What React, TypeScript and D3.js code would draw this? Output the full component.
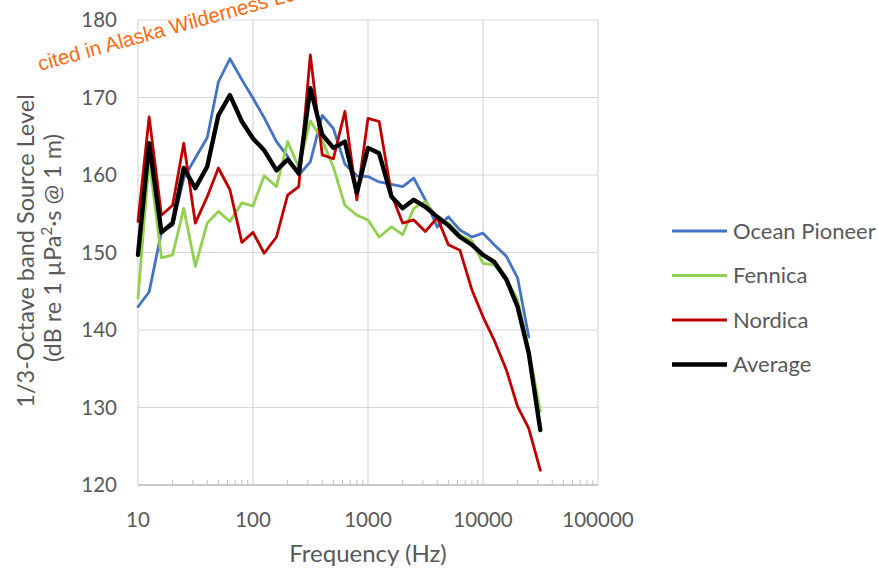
import React from "react";
import * as d3 from "d3";

const freqs = [10, 12.5, 16, 20, 25, 31.5, 40, 50, 63, 80, 100, 125, 160, 200, 250, 315, 400, 500, 630, 800,
  1000, 1250, 1600, 2000, 2500, 3150, 4000, 5000, 6300, 8000, 10000, 12500, 16000, 20000, 25000, 31500];

const oceanPioneer = [143.0, 144.9, 152.7, 153.5, 159.6, 162.2, 164.8, 172.0, 175.0, 172.3, 169.9, 167.4, 164.3,
  162.4, 160.0, 161.7, 167.7, 166.0, 161.4, 159.9, 159.8, 159.1, 158.8, 158.5, 159.6, 156.8, 153.3, 154.6,
  152.9, 152.0, 152.5, 151.0, 149.5, 146.7, 139.1];
const fennica = [144.1, 162.0, 149.3, 149.7, 155.7, 148.2, 153.8, 155.3, 154.0, 156.4, 156.0, 159.9, 158.5,
  164.3, 161.0, 167.0, 164.5, 161.0, 156.1, 154.8, 154.2, 152.0, 153.3, 152.3, 155.7, 156.6, 154.5, 153.8,
  152.3, 151.5, 148.6, 148.4, 146.5, 143.9, 137.5, 129.5];
const nordica = [154.0, 167.5, 154.8, 156.1, 164.1, 153.8, 157.2, 160.9, 158.1, 151.3, 152.6, 149.9, 152.0,
  157.4, 158.5, 175.5, 162.6, 162.1, 168.2, 156.8, 167.3, 166.9, 157.5, 153.8, 154.2, 152.7, 154.5, 151.0,
  150.3, 145.2, 141.7, 138.7, 134.8, 130.1, 127.3, 121.9];
const average = [149.7, 164.1, 152.6, 153.8, 160.9, 158.3, 161.1, 167.7, 170.3, 166.9, 164.7, 163.2, 160.6,
  162.0, 160.2, 171.2, 165.2, 163.5, 164.3, 157.7, 163.5, 162.8, 157.2, 155.7, 156.8, 155.9, 154.6, 153.5,
  152.0, 151.0, 149.7, 148.8, 146.5, 143.0, 137.0, 127.1];

const seriesNames = ["Ocean Pioneer", "Fennica", "Nordica", "Average"];
const xTicks = [10, 100, 1000, 10000, 100000];
const yTicks = [120, 130, 140, 150, 160, 170, 180];

const series = [
  { name: seriesNames[0], values: oceanPioneer, color: "#4472C4", width: 2.8 },
  { name: seriesNames[1], values: fennica, color: "#92D050", width: 2.8 },
  { name: seriesNames[2], values: nordica, color: "#C00000", width: 2.8 },
  { name: seriesNames[3], values: average, color: "#000000", width: 4.4 },
];

const font = "Lato, 'Open Sans', sans-serif";
const textColor = "#595959";

const App = () => {
  const x = d3.scaleLog().domain([10, 100000]).range([138, 598]);
  const y = d3.scaleLinear().domain([120, 180]).range([485, 20]);

  const line = d3
    .line<number>()
    .x((d, i) => x(freqs[i]))
    .y((d) => y(d));

  // minor ticks 2..9 inside each decade
  const minor: number[] = [];
  for (let dec = 10; dec < 100000; dec *= 10) {
    for (let k = 2; k <= 9; k++) minor.push(dec * k);
  }

  return (
    <svg width={878} height={569} style={{ position: "absolute", left: 0, top: 0, background: "#fff" }}>
      {/* gridlines */}
      {yTicks.map((t) => (
        <line key={"gy" + t} x1={138} x2={598} y1={y(t)} y2={y(t)} stroke="#d9d9d9" strokeWidth={1.2} />
      ))}
      {xTicks.map((t) => (
        <line key={"gx" + t} x1={x(t)} x2={x(t)} y1={20} y2={485} stroke="#d9d9d9" strokeWidth={1.2} />
      ))}
      <line x1={138} x2={598} y1={485} y2={485} stroke="#bfbfbf" strokeWidth={1.3} />
      {minor.map((m) => (
        <line key={"m" + m} x1={x(m)} x2={x(m)} y1={485} y2={480} stroke="#bfbfbf" strokeWidth={1} />
      ))}

      {/* tick labels */}
      {yTicks.map((t) => (
        <text key={"ly" + t} x={117} y={y(t)} dy="0.35em" textAnchor="end" fontFamily={font} fontSize={20.5} fill={textColor}>
          {t}
        </text>
      ))}
      {xTicks.map((t) => (
        <text key={"lx" + t} x={x(t)} y={520} dy="0.35em" textAnchor="middle" fontFamily={font} fontSize={20.5} fill={textColor}>
          {t}
        </text>
      ))}

      {/* axis titles */}
      <text x={368} y={554} dy="0.35em" textAnchor="middle" fontFamily={font} fontSize={24} fill={textColor}>
        Frequency (Hz)
      </text>
      <g transform="translate(26,251) rotate(-90)">
        <text x={0} y={0} dy="0.35em" textAnchor="middle" fontFamily={font} fontSize={23.5} fill={textColor}>
          1/3-Octave band Source Level
        </text>
        <text x={3} y={27} dy="0.35em" textAnchor="middle" fontFamily={font} fontSize={23.5} fill={textColor}>
          (dB re 1 µPa<tspan baselineShift="super" fontSize={15}>2</tspan>·s @ 1 m)
        </text>
      </g>

      {/* series */}
      {series.map((s) => (
        <path key={s.name} d={line(s.values) || ""} fill="none" stroke={s.color} strokeWidth={s.width}
          strokeLinejoin="round" strokeLinecap="round" />
      ))}

      {/* legend */}
      {series.map((s, i) => (
        <g key={"lg" + s.name} transform={`translate(672,${231 + i * 44.5})`}>
          <line x1={0} x2={55} y1={0} y2={0} stroke={s.color} strokeWidth={s.width} />
          <text x={61} y={0} dy="0.35em" fontFamily={font} fontSize={22} fill={textColor}>
            {s.name}
          </text>
        </g>
      ))}

      {/* overlay note */}
      <text transform="translate(40,71) rotate(-15.5)" fontFamily="'Liberation Sans', Arial, sans-serif" fontSize={20.5} fill="#FF6A13">
        cited in Alaska Wilderness League
      </text>
    </svg>
  );
};

export default App;
